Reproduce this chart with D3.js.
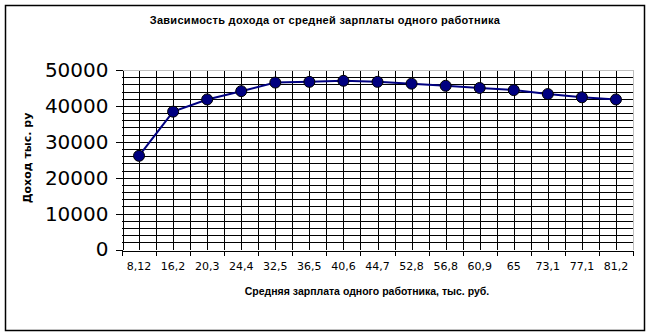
<!DOCTYPE html>
<html>
  <head>
    <meta charset="UTF-8" />
    <style>
      body { margin: 0; background: white; }
      svg { display: block; }
      .grid line { stroke-width: 1; shape-rendering: crispEdges; }
      .axis path, .axis line { stroke: black; shape-rendering: crispEdges; }
    </style>
  </head>
  <body>
    <svg></svg>
    <script src="https://d3js.org/d3.v7.min.js"></script>
    <script>
      // data
      let salary = ["8,12", "16,2", "20,3", "24,4", "32,5", "36,5", "40,6", "44,7", "52,8", "56,8", "60,9", "65", "73,1", "77,1", "81,2"];
      let income = [26100, 38400, 41800, 44100, 46500, 46700, 47000, 46700, 46200, 45600, 45000, 44400, 43300, 42400, 41800];
      let yTicks = [0, 10000, 20000, 30000, 40000, 50000];

      let width = 650,
        height = 336;
      let plotL = 122, plotR = 633, plotT = 70, plotB = 249.5;

      let svg = d3.select("svg").attr("width", width).attr("height", height);

      // outer frame
      svg.append("rect")
        .attr("x", 5.5).attr("y", 5.5)
        .attr("width", 639).attr("height", 325)
        .attr("fill", "white")
        .attr("stroke", "black")
        .attr("stroke-width", 1.5);

      let x = d3.scaleBand().domain(salary).range([plotL, plotR]).paddingInner(0).paddingOuter(0);
      let xLin = d3.scaleLinear().domain([0, salary.length]).range([plotL, plotR]); // category boundaries
      let y = d3.scaleLinear().domain([0, 50000]).range([plotB, plotT]);

      // vertical grid: boundaries and centers
      let vLines = d3.range(1, salary.length * 2 + 1).map((i) => i / 2);
      svg.append("g").attr("class", "grid")
        .selectAll("line")
        .data(vLines)
        .join("line")
        .attr("x1", (d) => Math.round(xLin(d)) + 0.5)
        .attr("x2", (d) => Math.round(xLin(d)) + 0.5)
        .attr("y1", plotT)
        .attr("y2", plotB)
        .attr("stroke", (d) => (d == salary.length ? "#c0c0c0" : "black"));

      // horizontal grid every 2000
      let hLines = d3.range(2000, 50001, 2000);
      svg.append("g").attr("class", "grid")
        .selectAll("line")
        .data(hLines)
        .join("line")
        .attr("x1", plotL)
        .attr("x2", plotR)
        .attr("y1", (d) => Math.round(y(d)) + 0.5)
        .attr("y2", (d) => Math.round(y(d)) + 0.5)
        .attr("stroke", (d) => (d == 50000 ? "#c0c0c0" : "black"));

      // y axis
      let yAxis = svg.append("g")
        .attr("class", "axis")
        .attr("transform", `translate(${plotL + 0.5},0)`)
        .call(d3.axisLeft(y).tickValues(yTicks).tickFormat(d3.format("d")).tickSize(7).tickSizeOuter(0).tickPadding(7));
      yAxis.selectAll("text")
        .attr("font-family", "DejaVu Sans")
        .attr("font-size", 20)
        .attr("fill", "black");

      // x axis: ticks at boundaries
      svg.append("g")
        .attr("class", "axis")
        .attr("transform", `translate(0,${Math.round(plotB) + 0.5})`)
        .call(d3.axisBottom(xLin).tickValues(d3.range(0, salary.length + 1)).tickFormat("").tickSize(5).tickSizeOuter(0));

      // x labels at centers
      let xLab = svg.append("g")
        .attr("transform", `translate(0,${Math.round(plotB)})`)
        .call(d3.axisBottom(x).tickSize(0).tickPadding(12));
      xLab.select(".domain").remove();
      xLab.selectAll("text")
        .attr("font-family", "DejaVu Sans")
        .attr("font-size", 11)
        .attr("fill", "black");

      // line and markers
      let pts = salary.map((s, i) => ({ s: s, v: income[i] }));
      let line = d3.line().x((d) => x(d.s) + x.bandwidth() / 2).y((d) => y(d.v));
      svg.append("path")
        .datum(pts)
        .attr("d", line)
        .attr("fill", "none")
        .attr("stroke", "#000080")
        .attr("stroke-width", 2);
      svg.append("g")
        .selectAll("circle")
        .data(pts)
        .join("circle")
        .attr("cx", (d) => x(d.s) + x.bandwidth() / 2)
        .attr("cy", (d) => y(d.v))
        .attr("r", 5.5)
        .attr("fill", "#000080")
        .attr("stroke", "black")
        .attr("stroke-width", 1);

      // titles
      svg.append("text")
        .attr("x", 325)
        .attr("y", 24)
        .attr("text-anchor", "middle")
        .attr("font-family", "Liberation Sans")
        .attr("font-weight", "bold")
        .attr("font-size", 11)
        .attr("letter-spacing", 0.3)
        .text("Зависимость дохода от средней зарплаты одного работника");

      svg.append("text")
        .attr("x", 367)
        .attr("y", 295)
        .attr("text-anchor", "middle")
        .attr("font-family", "Liberation Sans")
        .attr("font-weight", "bold")
        .attr("font-size", 10.5)
        .text("Средняя зарплата одного работника, тыс. руб.");

      svg.append("text")
        .attr("transform", "translate(31,158) rotate(-90)")
        .attr("text-anchor", "middle")
        .attr("font-family", "DejaVu Sans")
        .attr("font-weight", "bold")
        .attr("font-size", 11)
        .text("Доход тыс. ру");
    </script>
  </body>
</html>
